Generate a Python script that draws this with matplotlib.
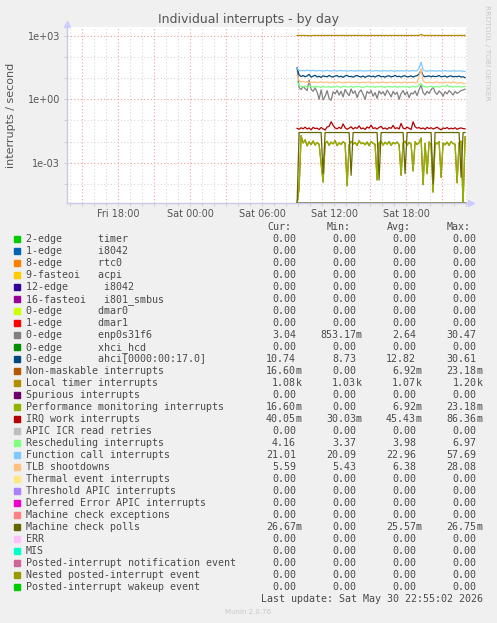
import numpy as np
import matplotlib
matplotlib.use("Agg")
import matplotlib.pyplot as plt
from matplotlib.ticker import FixedLocator, NullFormatter

W, H = 497, 623

# time axis: hours relative to Sat 00:00, one sample every 10 minutes
t0, t1 = 8.9, 22.9
times = np.linspace(t0, t1, 85)

local_timer = [1080, 1072, 1068, 1074, 1070, 1062, 1045, 1038, 1066, 1071,
               1073, 1069, 1075, 1070, 1067, 1072, 1074, 1069, 1071, 1073,
               1070, 1068, 1072, 1075, 1071, 1066, 1073, 1070, 1069, 1074,
               1072, 1070, 1067, 1071, 1073, 1050, 1072, 1075, 1070, 1068,
               1071, 1074, 1069, 1072, 1070, 1073, 1068, 1071, 1074, 1070,
               1072, 1069, 1073, 1071, 1068, 1072, 1075, 1070, 1069, 1073,
               1071, 1085, 1200, 1078, 1070, 1072, 1069, 1074, 1071, 1068,
               1073, 1070, 1072, 1069, 1074, 1071, 1070, 1073, 1068, 1072,
               1070, 1074, 1071, 1069, 1080]
func_call = [28.5, 23.8, 22.9, 23.4, 22.6, 24.1, 23.0, 22.4, 23.7, 22.8,
             22.1, 23.3, 22.7, 21.9, 22.8, 23.5, 22.4, 22.0, 23.1, 22.6,
             21.8, 22.9, 23.4, 22.2, 22.7, 21.6, 22.5, 23.2, 22.3, 21.9,
             22.8, 22.4, 23.0, 21.7, 22.6, 22.1, 22.9, 22.3, 21.8, 22.7,
             23.1, 22.2, 21.6, 22.5, 22.9, 21.9, 22.4, 23.3, 22.0, 21.5,
             22.6, 22.2, 23.0, 21.8, 22.4, 22.7, 21.9, 22.3, 23.4, 22.1,
             22.5, 30.2, 57.7, 24.6, 22.4, 21.8, 22.6, 22.0, 22.9, 21.7,
             22.3, 22.8, 21.6, 22.2, 23.1, 21.9, 22.4, 21.5, 22.7, 22.0,
             21.8, 22.5, 22.1, 21.4, 21.0]
ahci = [30.6, 14.2, 12.1, 13.5, 11.8, 12.9, 15.3, 11.2, 12.6, 13.8,
        11.5, 12.4, 10.9, 13.1, 12.2, 11.7, 13.6, 12.0, 11.4, 12.8,
        13.3, 11.6, 12.5, 11.1, 12.9, 13.7, 11.9, 12.3, 11.3, 12.7,
        13.4, 12.1, 11.5, 12.8, 11.0, 12.4, 13.2, 11.8, 12.6, 11.4,
        12.9, 13.5, 11.7, 12.2, 11.2, 12.7, 13.0, 11.6, 12.3, 13.6,
        11.9, 12.5, 11.3, 12.8, 13.1, 11.5, 12.0, 12.9, 11.4, 12.6,
        13.3, 15.8, 24.5, 13.2, 11.8, 12.4, 13.0, 11.6, 12.7, 11.9,
        12.3, 13.4, 11.7, 12.1, 12.8, 11.2, 12.5, 13.0, 11.6, 12.2,
        11.9, 12.6, 11.4, 11.8, 10.7]
tlb = [13.5, 7.8, 6.6, 7.2, 6.4, 6.9, 6.2, 6.7, 6.3, 6.8,
       6.1, 6.5, 6.9, 6.2, 6.4, 6.7, 6.0, 6.3, 6.6, 6.1,
       6.4, 6.8, 6.2, 6.0, 6.5, 6.3, 6.7, 6.1, 6.4, 6.2,
       6.6, 6.0, 6.3, 6.5, 6.1, 6.4, 6.8, 6.2, 6.0, 6.3,
       6.5, 6.1, 6.4, 6.7, 6.2, 6.0, 6.3, 6.6, 6.1, 6.4,
       6.2, 6.5, 6.0, 6.3, 6.7, 6.1, 6.4, 6.2, 6.6, 6.0,
       6.3, 12.4, 28.1, 7.5, 6.3, 6.1, 6.5, 6.2, 6.0, 6.4,
       6.7, 6.1, 6.3, 6.0, 6.5, 6.2, 6.4, 5.9, 6.9, 6.3,
       5.8, 6.0, 6.2, 5.7, 5.6]
resched = [6.97, 4.6, 4.1, 3.9, 4.3, 3.7, 4.0, 4.2, 3.8, 4.1,
           3.9, 4.0, 3.6, 4.2, 3.8, 3.9, 4.1, 3.7, 4.0, 3.8,
           4.2, 3.9, 3.7, 4.1, 4.0, 3.8, 3.9, 4.2, 3.7, 4.0,
           3.9, 4.1, 3.8, 3.6, 4.0, 4.2, 3.9, 3.8, 4.1, 3.7,
           4.0, 3.9, 4.2, 3.8, 3.7, 4.1, 4.0, 3.9, 3.8, 4.2,
           3.7, 4.0, 3.9, 4.1, 3.8, 4.0, 3.6, 3.9, 4.2, 3.8,
           4.0, 4.9, 5.6, 4.1, 3.9, 3.8, 4.0, 4.2, 3.7, 3.9,
           4.1, 3.8, 4.0, 4.3, 3.9, 4.8, 4.0, 4.1, 3.8, 4.0,
           3.9, 4.2, 3.8, 4.0, 4.16]
enp = [30.5, 3.6, 2.9, 4.1, 3.2, 2.6, 8.2, 3.0, 2.4, 3.5,
       2.2, 1.0, 2.8, 0.95, 1.4, 2.6, 1.1, 0.9, 2.3, 1.8,
       2.7, 1.6, 2.4, 1.3, 2.9, 2.0, 1.5, 3.1, 1.9, 2.5,
       1.2, 2.2, 2.8, 1.7, 1.0, 2.4, 1.9, 2.6, 1.4, 2.1,
       1.1, 2.5, 1.8, 2.3, 1.5, 2.7, 2.0, 1.3, 2.4, 1.7,
       2.2, 1.0, 1.9, 2.6, 1.6, 2.3, 1.2, 2.0, 1.8, 2.5,
       1.5, 2.9, 4.7, 2.1, 1.6, 2.4, 1.9, 2.8, 3.9, 2.2,
       1.7, 2.5, 2.0, 1.4, 2.3, 1.8, 2.6, 2.1, 1.6, 2.4,
       1.9, 2.2, 2.6, 2.8, 3.04]
irq_work = [0.042, 0.038, 0.045, 0.040, 0.048, 0.039, 0.044, 0.036, 0.047, 0.041,
            0.043, 0.037, 0.046, 0.040, 0.035, 0.049, 0.052, 0.086, 0.058, 0.044,
            0.040, 0.047, 0.041, 0.068, 0.045, 0.038, 0.043, 0.050, 0.039, 0.046,
            0.042, 0.055, 0.040, 0.044, 0.037, 0.049, 0.043, 0.060, 0.041, 0.045,
            0.039, 0.047, 0.052, 0.040, 0.044, 0.038, 0.046, 0.042, 0.058, 0.041,
            0.045, 0.039, 0.072, 0.043, 0.040, 0.048, 0.042, 0.037, 0.086, 0.050,
            0.043, 0.046, 0.040, 0.044, 0.038, 0.047, 0.041, 0.045, 0.039, 0.043,
            0.048, 0.040, 0.036, 0.044, 0.041, 0.046, 0.039, 0.043, 0.040, 0.045,
            0.038, 0.042, 0.044, 0.041, 0.040]
# NMI and performance monitoring counters are identical
perf_nmi = [0.0, 0.00006, 0.019, 0.0085, 0.012, 0.0062, 0.0098, 0.0071, 0.0105, 0.0068,
            0.0089, 0.0074, 0.0009, 0.00012, 0.0081, 0.0102, 0.0066, 0.0093, 0.0077, 0.0110,
            0.0064, 0.0088, 0.0072, 0.0097, 0.0083, 0.00008, 0.0069, 0.0101, 0.0076, 0.0090,
            0.0065, 0.0108, 0.0079, 0.0086, 0.0070, 0.0095, 0.0063, 0.0099, 0.0082, 0.0073,
            0.00015, 0.0087, 0.0104, 0.0068, 0.0092, 0.0075, 0.0100, 0.0066, 0.0089, 0.0078,
            0.0094, 0.0071, 0.00025, 0.0085, 0.0103, 0.0067, 0.0091, 0.0076, 0.0004, 0.0098,
            0.0072, 0.0088, 0.0145, 0.00009, 0.0082, 0.0003, 0.0096, 0.0069, 0.00004, 0.0090,
            0.0077, 0.0101, 0.0002, 0.0084, 0.0070, 0.0093, 0.0065, 0.0099, 0.0080, 0.0074,
            0.00011, 0.0087, 0.0105, 0.00001, 0.0166]
mce_polls = [0.0] + [0.02667] * 12 + [0.0003] + [0.02667] * 13 + [0.00025] + \
            [0.02667] * 13 + [0.00015] + [0.02667] * 12 + [0.0003] + \
            [0.02667] * 13 + [0.0001] + [0.02667] * 13 + [0.0002] + [0.02667] * 2

# legend rows: label, colour, cur, min, avg, max
labels = ["2-edge      timer", "1-edge      i8042", "8-edge      rtc0",
          "9-fasteoi   acpi", "12-edge      i8042", "16-fasteoi   i801_smbus",
          "0-edge      dmar0", "1-edge      dmar1", "0-edge      enp0s31f6",
          "0-edge      xhci_hcd", "0-edge      ahci[0000:00:17.0]",
          "Non-maskable interrupts", "Local timer interrupts", "Spurious interrupts",
          "Performance monitoring interrupts", "IRQ work interrupts",
          "APIC ICR read retries", "Rescheduling interrupts", "Function call interrupts",
          "TLB shootdowns", "Thermal event interrupts", "Threshold APIC interrupts",
          "Deferred Error APIC interrupts", "Machine check exceptions",
          "Machine check polls", "ERR", "MIS", "Posted-interrupt notification event",
          "Nested posted-interrupt event", "Posted-interrupt wakeup event"]
colors = ["#00CC00", "#0066B3", "#FF8000", "#FFCC00", "#330099", "#990099",
          "#CCFF00", "#FF0000", "#808080", "#008F00", "#00487D", "#B35A00",
          "#B38F00", "#6B006B", "#8FB300", "#B30000", "#BEBEBE", "#80FF80",
          "#80C9FF", "#FFC080", "#FFE680", "#AA80FF", "#EE00CC", "#FF8080",
          "#666600", "#FFBFFF", "#00FFCC", "#CC6699", "#999900", "#00CC00"]
z = "0.00"
cur = [z] * 8 + ["3.04", z, "10.74", "16.60m", "1.08k", z, "16.60m", "40.05m", z,
                 "4.16", "21.01", "5.59", z, z, z, z, "26.67m", z, z, z, z, z]
mins = [z] * 8 + ["853.17m", z, "8.73", z, "1.03k", z, z, "30.03m", z,
                  "3.37", "20.09", "5.43", z, z, z, z, z, z, z, z, z, z]
avgs = [z] * 8 + ["2.64", z, "12.82", "6.92m", "1.07k", z, "6.92m", "45.43m", z,
                  "3.98", "22.96", "6.38", z, z, z, z, "25.57m", z, z, z, z, z]
maxs = [z] * 8 + ["30.47", z, "30.61", "23.18m", "1.20k", z, "23.18m", "86.36m", z,
                  "6.97", "57.69", "28.08", z, z, z, z, "26.75m", z, z, z, z, z]

series = {8: enp, 10: ahci, 11: perf_nmi, 12: local_timer, 14: perf_nmi,
          15: irq_work, 17: resched, 18: func_call, 19: tlb, 24: mce_polls}

xticks = [-6, 0, 6, 12, 18]
xticklabels = ["Fri 18:00", "Sat 00:00", "Sat 06:00", "Sat 12:00", "Sat 18:00"]
yticks = [1e-3, 1e0, 1e3]
yticklabels = ["1e-03", "1e+00", "1e+03"]

ymin, ymax = 10 ** -4.93, 10 ** 3.43
xmin, xmax = -10.28, 23.06

fig = plt.figure(figsize=(W / 100, H / 100), dpi=100, facecolor="#F0F0F0")


def fx(x):
    return x / W


def fy(y):
    return 1 - y / H


ax = fig.add_axes([fx(67), fy(203.3), 400 / W, (203.3 - 27) / H])
ax.set_facecolor("white")
ax.set_yscale("log")
ax.set_xlim(xmin, xmax)
ax.set_ylim(ymin, ymax)

# grid: hourly / per decade in grey, every 3h / 3 decades in red
for h in range(-10, 24):
    c = "#f0a0a0" if h % 3 == 0 else "#d8d8d8"
    ax.axvline(h, color=c, lw=0.8, ls=(0, (1, 2)), zorder=1)
for d in range(-4, 4):
    c = "#f0a0a0" if d % 3 == 0 else "#d8d8d8"
    ax.axhline(10.0 ** d, color=c, lw=0.8, ls=(0, (1, 2)), zorder=1)

for i in range(len(labels)):
    vals = np.array(series.get(i, [0.0] * len(times)), dtype=float)
    vals = np.where(vals > 0, vals, ymin)
    ax.plot(times, vals, color=colors[i], lw=0.9, zorder=3)

ax.xaxis.set_major_locator(FixedLocator(xticks))
ax.set_xticklabels(xticklabels)
ax.xaxis.set_minor_locator(FixedLocator(list(range(-10, 24))))
ax.yaxis.set_major_locator(FixedLocator(yticks))
ax.set_yticklabels(yticklabels)
ax.yaxis.set_minor_locator(FixedLocator([10.0 ** d for d in range(-4, 4)]))
ax.yaxis.set_minor_formatter(NullFormatter())
ax.tick_params(which="both", length=2, width=0.8, color="#d0d0d0",
               labelsize=7, labelcolor="#555555", pad=3)
ax.tick_params(axis="x", pad=2)

for s in ["top", "right"]:
    ax.spines[s].set_visible(False)
for s in ["left", "bottom"]:
    ax.spines[s].set_color("#c8c8e8")
    ax.spines[s].set_linewidth(1)
    ax.spines[s].set_zorder(2)
ax.plot([1.01], [0], marker=">", color="#ccccff", ms=5, transform=ax.transAxes, clip_on=False)
ax.plot([0], [1.015], marker="^", color="#ccccff", ms=5, transform=ax.transAxes, clip_on=False)

fig.text(fx(248), fy(19), "Individual interrupts - by day", ha="center", va="center",
         fontsize=9, color="#555555")
fig.text(fx(11), fy(115), "interrupts / second", ha="center", va="center",
         rotation=90, fontsize=8, color="#555555")
fig.text(fx(487), fy(53), "RRDTOOL / TOBI OETIKER", ha="center", va="center",
         rotation=270, fontsize=5.4, color="#c8c8c8")

mono = "DejaVu Sans Mono"
fs = 7.2
tc = "#4a4a4a"
for hx, name in zip([267, 327, 387, 447], ["Cur:", "Min:", "Avg:", "Max:"]):
    fig.text(fx(hx), fy(227), name, ha="left", va="center", family=mono, fontsize=fs, color=tc)


def put_value(xr, y, s):
    if s[-1].isalpha():
        num, suf = s[:-1], s[-1]
    else:
        num, suf = s, ""
    fig.text(fx(xr), fy(y), num, ha="right", va="center", family=mono, fontsize=fs, color=tc)
    if suf:
        fig.text(fx(xr), fy(y), suf, ha="left", va="center", family=mono, fontsize=fs, color=tc)


for i, lab in enumerate(labels):
    y = 239.3 + 12 * i
    fig.patches.append(plt.Rectangle((fx(14), fy(y + 3)), 6 / W, 6 / H,
                                     transform=fig.transFigure, color=colors[i]))
    fig.text(fx(26), fy(y), lab, ha="left", va="center", family=mono, fontsize=fs, color=tc)
    put_value(296, y, cur[i])
    put_value(356, y, mins[i])
    put_value(416, y, avgs[i])
    put_value(476.7, y, maxs[i])

fig.text(fx(483), fy(599.5), "Last update: Sat May 30 22:55:02 2026", ha="right", va="center",
         family=mono, fontsize=fs, color=tc)
fig.text(fx(248), fy(612.5), "Munin 2.0.76", ha="center", va="center", fontsize=5, color="#c8c8c8")

fig.savefig("out.png", dpi=100, facecolor=fig.get_facecolor())
